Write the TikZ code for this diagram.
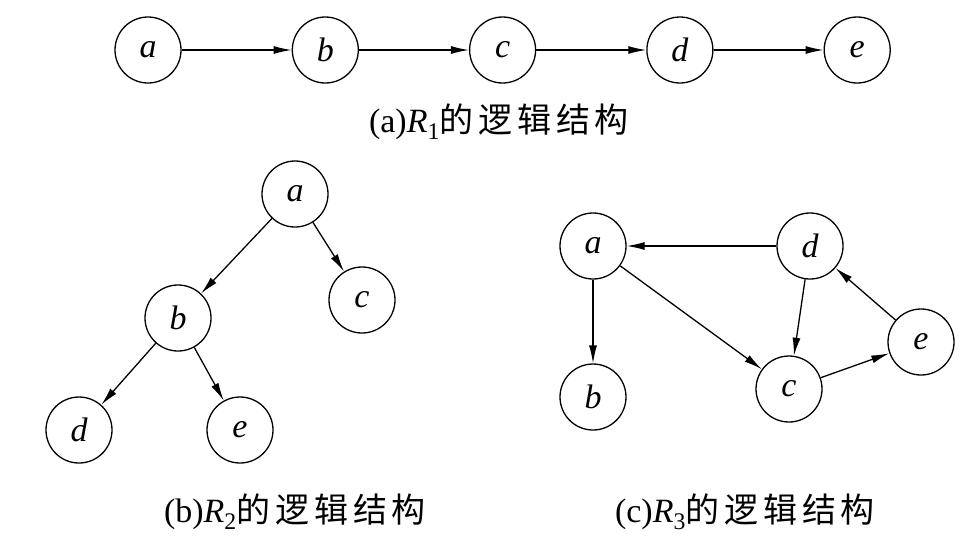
\documentclass[tikz,border=0pt]{standalone}
\usepackage{fontspec}
\setmainfont{Liberation Serif}
\newfontfamily\cjk[LetterSpace=14]{Noto Sans CJK SC}
\usetikzlibrary{arrows.meta, positioning}

\begin{document}
\begin{tikzpicture}[x=1pt, y=-1pt, node distance=110pt,
  >={Latex[length=18pt, width=8pt]},
  vertex/.style={circle, draw, line width=1.3pt, minimum size=66pt, inner sep=0pt, font=\fontsize{34}{34}\selectfont\itshape},
  caption/.style={font=\fontsize{34}{34}\selectfont},
  edge/.style={->, line width=1.3pt}]
\useasboundingbox (0,0) rectangle (973,550);

% (a) linear structure
\node (a1) [vertex] at (148,50) {a};
\node (b1) [vertex, right=of a1] {b};
\node (c1) [vertex, right=of b1] {c};
\node (d1) [vertex, right=of c1] {d};
\node (e1) [vertex, right=of d1] {e};
\node (cap1) [caption] at (499,122) {(a){\itshape R}\textsubscript{1}{\cjk 的逻辑结构}};

\draw[edge] (a1) -- (b1);
\draw[edge] (b1) -- (c1);
\draw[edge] (c1) -- (d1);
\draw[edge] (d1) -- (e1);

% (b) tree structure
\node (a2) [vertex] at (295,194) {a};
\node (b2) [vertex] at (178,318) {b};
\node (c2) [vertex] at (362,300) {c};
\node (d2) [vertex] at (79,430) {d};
\node (e2) [vertex] at (240,430) {e};
\node (cap2) [caption] at (295,512) {(b){\itshape R}\textsubscript{2}{\cjk 的逻辑结构}};

\draw[edge] (a2) -- (b2);
\draw[edge] (a2) -- (c2);
\draw[edge] (b2) -- (d2);
\draw[edge] (b2) -- (e2);

% (c) graph structure
\node (a3) [vertex] at (593,246) {a};
\node (b3) [vertex] at (593,397) {b};
\node (c3) [vertex] at (789,389) {c};
\node (d3) [vertex] at (810,246) {d};
\node (e3) [vertex] at (921,342) {e};
\node (cap3) [caption] at (745,512) {(c){\itshape R}\textsubscript{3}{\cjk 的逻辑结构}};

\draw[edge] (d3) -- (a3);
\draw[edge] (a3) -- (b3);
\draw[edge] (a3) -- (c3);
\draw[edge] (d3) -- (c3);
\draw[edge] (c3) -- (e3);
\draw[edge] (e3) -- (d3);
\end{tikzpicture}
\end{document}
